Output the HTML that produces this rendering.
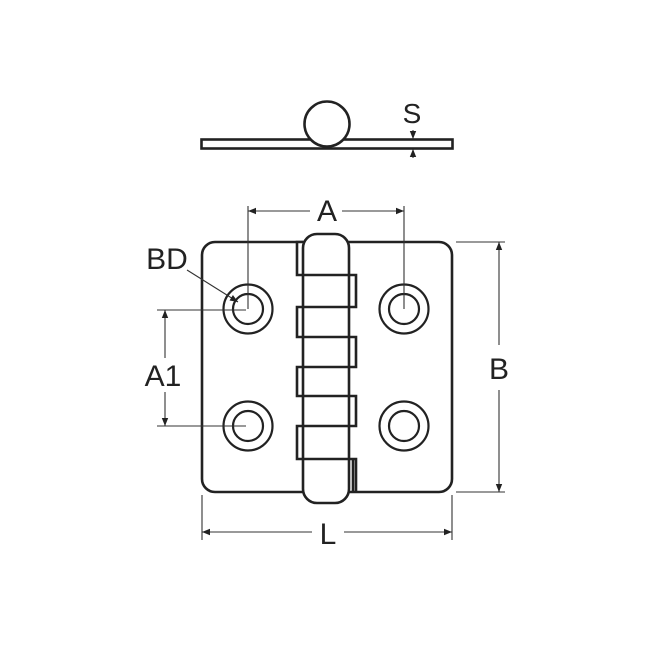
<!DOCTYPE html>
<html><head><style>html,body{margin:0;padding:0;background:#fff}svg{display:block}</style></head>
<body>
<svg width="664" height="665" viewBox="0 0 664 665" xmlns="http://www.w3.org/2000/svg">
<defs>
<marker id="ar" viewBox="0 0 10 10" refX="10" refY="5" markerWidth="10" markerHeight="8" markerUnits="userSpaceOnUse" orient="auto-start-reverse"><path d="M0,1 L10,5 L0,9 z" fill="#222"/></marker>
</defs>
<g fill="none" stroke="#222" stroke-width="2.6">
<!-- top view -->
<rect x="201.5" y="139.5" width="251" height="9"/>
<circle cx="327" cy="124" r="22.5" fill="#fff"/>
<!-- plate -->
<rect x="202" y="242" width="250" height="250" rx="13"/>
<!-- knuckle tabs -->
<path d="M303 242 H297 V275 H356 V307 H297 V337 H356 V367 H297 V396 H356 V426 H297 V459 H356 V492" fill="#fff"/>
<path d="M353 459 V492"/>
<!-- barrel -->
<rect x="303" y="234" width="46" height="269" rx="14" fill="#fff"/>
<path d="M303 275 H349 M303 307 H349 M303 337 H349 M303 367 H349 M303 396 H349 M303 426 H349 M303 459 H349"/>
<!-- holes -->
<g stroke-width="2.2">
<circle cx="248" cy="309" r="24.5"/><circle cx="248" cy="309" r="15"/>
<circle cx="404" cy="309" r="24.5"/><circle cx="404" cy="309" r="15"/>
<circle cx="248" cy="426" r="24.5"/><circle cx="248" cy="426" r="15"/>
<circle cx="404" cy="426" r="24.5"/><circle cx="404" cy="426" r="15"/>
</g>
</g>
<g fill="none" stroke="#333" stroke-width="1.1">
<!-- A -->
<path d="M248 206 V309 M404 206 V309"/>
<path d="M248 211 H310" marker-start="url(#ar)"/>
<path d="M342 211 H404" marker-end="url(#ar)"/>
<!-- B -->
<path d="M456 242 H505 M456 492 H505"/>
<path d="M499 242 V345" marker-start="url(#ar)"/>
<path d="M499 390 V492" marker-end="url(#ar)"/>
<!-- L -->
<path d="M202 495 V540 M452 495 V540"/>
<path d="M202 532 H312" marker-start="url(#ar)"/>
<path d="M344 532 H452" marker-end="url(#ar)"/>
<!-- A1 -->
<path d="M157 310 H246 M157 426 H246"/>
<path d="M165 310 V358" marker-start="url(#ar)"/>
<path d="M165 392 V426" marker-end="url(#ar)"/>
<!-- BD leader -->
<path d="M187 270 L238 302" marker-end="url(#ar)"/>
<!-- S -->
<path d="M413 130 V139" marker-end="url(#ar)"/>
<path d="M413 149 V158" marker-start="url(#ar)"/>
</g>
<g font-family="Liberation Sans, sans-serif" font-size="30" fill="#222" text-anchor="middle">
<text x="327" y="221">A</text>
<text x="499" y="379">B</text>
<text x="328" y="544">L</text>
<text x="163" y="386">A1</text>
<text x="167" y="269">BD</text>
<text x="412" y="123" font-size="28">S</text>
</g>
</svg>
</body></html>
